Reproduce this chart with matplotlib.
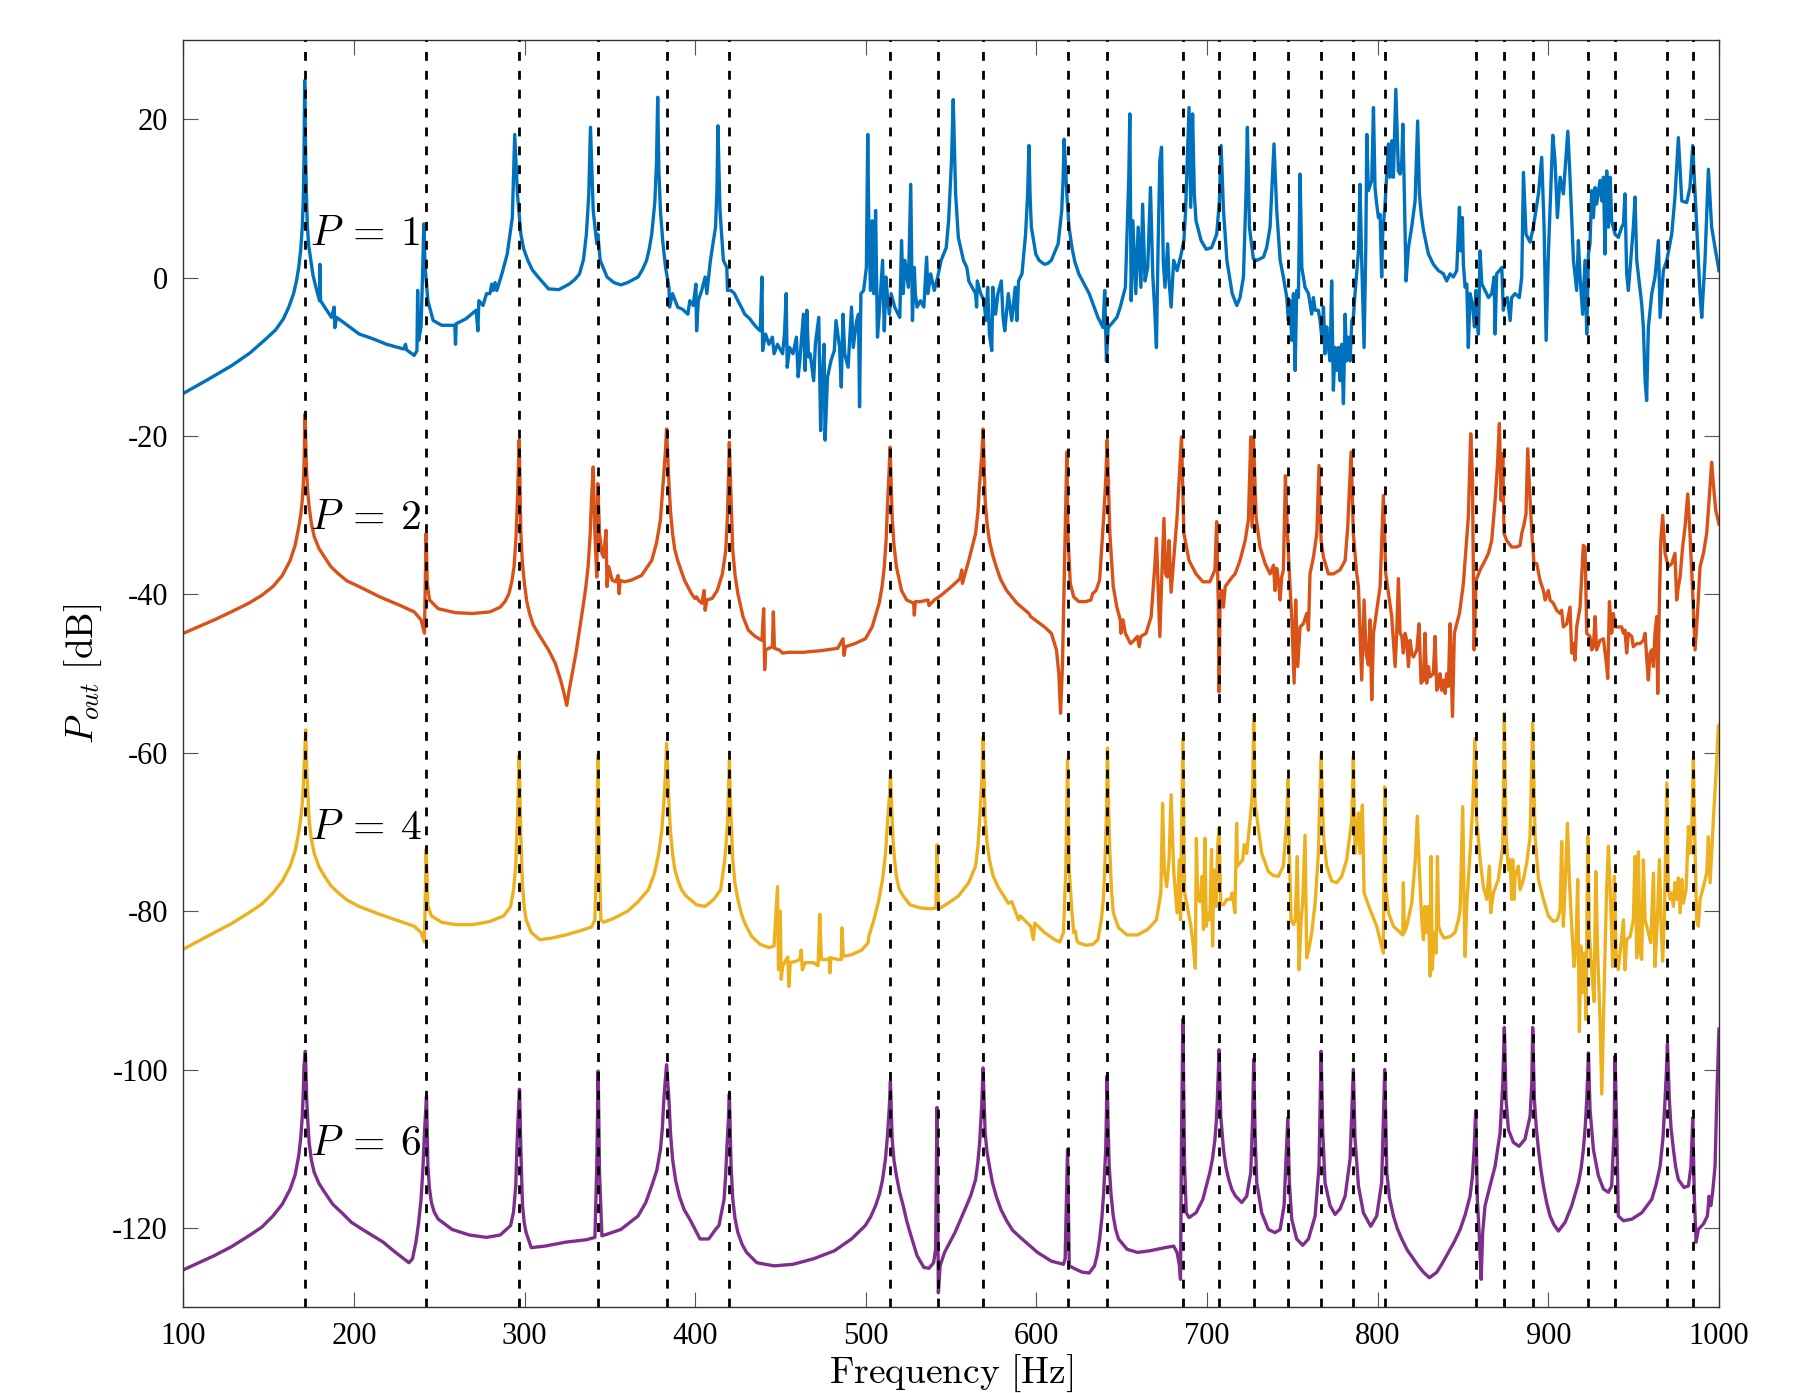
import matplotlib
matplotlib.use("Agg")
import matplotlib.pyplot as plt

plt.rcParams['font.family'] = ['Liberation Serif', 'DejaVu Serif']
plt.rcParams['mathtext.fontset'] = 'cm'
plt.rcParams['axes.unicode_minus'] = False

# resonance frequencies (dashed lines), Hz
modes = [171.3, 242.3, 296.8, 342.8, 383.2, 420.0, 514.4, 542.1, 568.7, 618.2,
         641.6, 685.8, 707.0, 727.3, 747.3, 766.8, 785.7, 804.1, 857.4, 874.2,
         890.8, 923.5, 939.1, 969.8, 984.8]

# (frequency [Hz], Pout [dB])
p1 = [(100.0, -14.6), (114.0, -12.9), (128.3, -11.1), (139.0, -9.5), (148.5, -7.7), (154.0, -6.6),
      (158.6, -5.2), (161.8, -3.7), (164.6, -2.0), (166.2, -0.5), (167.6, 1.3), (168.8, 3.6),
      (169.7, 6.4), (170.3, 10.0), (170.7, 14.8), (171.1, 24.9), (171.7, 14.8), (172.2, 9.8),
      (172.7, 6.4), (173.5, 4.0), (174.7, 2.2), (176.0, 0.3),
      (177.7, -1.2), (179.8, -2.9), (180.0, 1.7), (180.4, -2.9), (182.8, -3.7), (186.8, -5.0),
      (188.4, -3.7), (188.8, -6.3), (189.8, -5.0), (194.9, -5.8), (203.0, -7.1), (211.0, -7.7),
      (219.1, -8.4), (229.2, -9.0), (230.2, -8.4), (230.8, -9.1), (235.3, -9.8), (236.9, -9.2),
      (237.3, -1.6), (237.9, -7.9), (239.3, -6.2), (240.3, 1.3), (240.9, 6.8), (241.7, 1.3),
      (243.3, -2.9), (246.4, -5.4), (251.4, -6.0), (259.1, -6.0), (259.5, -8.4), (259.9, -5.8),
      (265.5, -5.2), (271.6, -4.1), (272.6, -6.7), (273.2, -2.9), (275.6, -3.5), (277.7, -2.0),
      (279.7, -2.0), (280.7, -0.8), (281.7, -1.6), (282.7, -0.6), (283.7, -1.6), (286.7, 0.5),
      (289.8, 3.0), (292.8, 7.6), (294.2, 18.1), (295.8, 10.6), (297.8, 5.5), (299.5, 3.6),
      (301.9, 2.2), (304.5, 1.0), (307.9, 0.1), (314.0, -1.4), (320.0, -1.5), (326.1, -0.8),
      (329.5, -0.2), (332.2, 0.5), (334.5, 2.3), (336.2, 5.5), (337.6, 10.5),
      (338.6, 19.0), (340.2, 8.5), (342.3, 4.3), (342.9, 5.5), (344.3, 2.2), (348.3, 0.1),
      (352.3, -0.6), (356.4, -0.9), (360.4, -0.6), (366.5, 0.1), (369.0, 1.0), (371.5, 2.2),
      (373.0, 3.6), (374.5, 5.5), (376.3, 9.5), (377.3, 14.5), (378.0, 22.8), (378.7, 13.5),
      (379.6, 8.5), (381.0, 4.5), (382.6, 1.3), (384.6, -1.2), (385.0, -3.7), (386.7, -2.0),
      (389.7, -3.7), (392.7, -4.0), (395.7, -4.6), (396.8, -2.9), (398.8, -3.5), (400.4, -0.8),
      (400.8, -6.7), (401.8, -2.9), (403.8, -1.6), (405.8, 0.1), (406.8, -2.0), (408.9, 2.2),
      (411.9, 6.4), (412.7, 11.0), (413.3, 19.2), (414.5, 8.5), (416.5, 2.2), (418.5, 1.3), (418.9, -1.6),
      (421.0, -1.6), (423.0, -2.0), (425.0, -2.9), (427.0, -3.7), (429.0, -4.6), (432.1, -5.2),
      (434.1, -5.8), (436.1, -6.3), (438.1, -6.7), (439.1, 0.1), (439.5, -9.2), (441.2, -7.1),
      (443.2, -8.4), (445.2, -7.5), (446.2, -9.6), (448.2, -8.4), (451.2, -9.6), (452.3, -7.1),
      (453.3, -2.0), (453.9, -11.3), (455.3, -8.8), (457.3, -9.6), (459.3, -7.5), (460.3, -12.5),
      (461.3, -10.5), (463.4, -4.6), (464.4, -11.7), (465.4, -4.1), (466.4, -10.0), (467.4, -9.6),
      (469.4, -13.0), (470.4, -8.4), (472.4, -5.0), (473.5, -19.3), (474.5, -12.6), (475.5, -8.4),
      (476.1, -20.5), (477.5, -12.6), (479.5, -10.5), (481.5, -9.2), (482.5, -5.4), (484.6, -8.8),
      (485.6, -13.8), (486.6, -4.6), (487.6, -9.6), (489.6, -11.3), (491.6, -3.7), (492.6, -8.8),
      (494.6, -5.4), (495.7, -4.6), (496.3, -16.3), (497.1, -2.0), (498.7, -1.6), (500.3, 1.3),
      (501.1, 18.1), (501.7, 7.2), (502.7, -1.6), (503.7, 7.2), (504.7, -2.0), (505.7, 8.5),
      (506.8, -7.5), (507.8, -4.6), (509.8, 2.2), (510.8, -6.7), (511.8, 0.1), (512.8, -2.9),
      (513.8, -4.6), (514.8, -2.0), (516.9, -3.7), (518.9, -4.6), (519.9, -5.0), (520.9, 4.7),
      (521.9, -2.0), (522.9, 2.2), (524.9, -1.2), (526.3, 11.8), (527.3, -5.4), (528.4, 1.3),
      (529.0, -2.0), (530.0, -3.7), (532.0, -2.9), (534.0, -3.7), (535.6, 2.6), (536.4, -2.0),
      (538.0, 0.5), (540.1, -1.6), (542.1, 0.1), (544.1, 2.2), (547.1, 3.8), (548.5, 7.2),
      (550.2, 14.8), (551.2, 22.5), (552.6, 10.6), (554.2, 5.1), (557.2, 2.2), (559.2, 1.3),
      (560.3, -0.4), (562.3, -1.2), (564.3, -2.0), (564.9, -3.7), (565.3, -0.4), (567.3, -2.0),
      (569.3, -2.9), (570.3, -5.4), (571.4, -1.2), (572.4, -7.1), (573.8, -9.2), (574.4, -1.2),
      (576.0, -4.6), (577.4, -2.0), (579.4, -0.4), (580.4, -5.0), (581.4, -6.7), (583.5, -2.0),
      (585.5, -5.4), (587.5, -1.2), (588.5, -5.4), (589.5, -0.4), (591.5, 0.5), (593.6, 5.5),
      (594.8, 10.5), (595.6, 16.7), (596.3, 10.0), (597.0, 6.4), (599.6, 3.0), (601.5, 2.2),
      (604.7, 1.7), (606.5, 1.8), (608.7, 2.2), (612.7, 4.3), (614.8, 8.5), (615.6, 12.5),
      (616.2, 17.5), (617.8, 10.6), (619.0, 6.5), (620.8, 3.8), (622.5, 2.0), (624.8, 0.5), (630.9, -2.0),
      (636.0, -5.0), (639.0, -6.3), (640.0, -1.6), (641.0, -10.5), (642.0, -6.3), (644.0, -5.8),
      (647.1, -5.0), (649.1, -3.7), (652.1, -1.2), (654.1, 12.7), (654.7, 20.7), (655.5, -2.9),
      (656.5, 7.2), (658.2, -2.0), (659.6, 6.4), (661.2, -1.2), (662.2, 9.3), (663.6, -0.4),
      (665.2, 1.3), (666.8, 11.4), (668.2, 0.1), (669.3, -4.1), (670.3, -8.8), (671.3, 4.3),
      (672.3, 14.8), (673.3, 16.5), (674.3, 2.2), (675.3, -1.2), (676.9, 4.3), (677.7, -0.4),
      (678.9, -3.7), (680.4, 2.2), (682.4, 0.9), (684.4, 2.6), (686.4, 4.7), (687.4, 8.5),
      (689.4, 21.5), (690.4, 8.9), (691.5, 20.7), (692.5, 10.6), (693.5, 7.2), (696.5, 4.7),
      (699.5, 3.6), (702.6, 3.8), (705.6, 5.5), (707.2, 9.7), (708.2, 16.7), (709.6, 8.5),
      (711.6, 2.2), (714.7, -2.0), (717.4, -3.5), (719.3, -2.5), (721.3, 0.1), (722.8, 10.6),
      (723.6, 19.0), (724.8, 6.4), (727.1, 2.4), (729.1, 2.2), (731.0, 2.4), (733.0, 2.6),
      (734.9, 3.8), (736.9, 6.4), (739.2, 16.9), (740.8, 8.5), (742.8, 2.2), (744.7, 0.1),
      (746.7, -2.5), (747.6, -5.4), (748.6, -2.9), (749.6, -7.9), (750.6, -2.0), (751.6, -11.7),
      (752.5, -1.6), (753.5, -2.5), (754.5, 13.1), (755.5, 1.3), (757.4, -1.2), (759.4, -2.0),
      (761.3, -4.6), (762.3, -2.5), (763.3, -4.1), (765.2, -4.1), (766.2, -5.4), (767.2, -7.5),
      (768.2, -3.7), (769.1, -9.6), (770.1, -6.2), (771.1, -8.8), (772.1, -10.5), (773.0, -0.4),
      (774.0, -14.2), (775.0, -8.8), (776.0, -11.7), (777.0, -8.8), (777.9, -13.0), (778.9, -8.4),
      (779.9, -15.9), (780.9, -4.6), (781.8, -10.5), (782.8, -7.5), (783.8, -10.5), (784.8, -5.4),
      (785.7, -5.0), (786.7, -2.0), (788.7, 3.4), (789.6, 11.8), (790.6, 2.2), (792.0, -8.8),
      (793.0, 3.8), (793.6, 18.1), (794.5, 11.0), (796.5, 12.3), (797.5, 21.5), (798.4, 11.4),
      (799.4, 9.3), (800.4, 7.6), (801.4, 8.0), (802.3, 0.1), (802.9, 5.5), (804.3, 9.3),
      (806.3, 16.9), (807.2, 12.7), (808.2, 17.3), (809.2, 12.7), (810.6, 23.8), (812.1, 13.5),
      (813.1, 13.1), (814.1, 14.8), (814.7, 19.4), (815.4, 12.7), (816.6, -0.4), (818.0, 3.8),
      (819.9, 6.4), (821.9, 9.7), (823.4, 19.8), (824.4, 10.6), (825.5, 8.0), (826.8, 6.0), (829.7, 3.0),
      (832.6, 1.7), (835.6, 0.9), (838.5, 0.5), (840.4, -0.4), (842.4, 0.5), (844.3, 0.1),
      (846.3, 0.9), (847.9, 8.9), (848.6, 3.4), (849.6, 7.6), (850.2, 1.7), (851.2, -1.2),
      (852.2, -0.8), (853.1, -8.8), (854.1, -2.0), (855.5, -3.3), (856.7, -6.2), (857.6, -1.6),
      (858.0, -4.6), (859.0, -7.1), (860.0, 3.4), (861.0, -0.8), (862.9, -1.6), (864.9, -2.5),
      (866.8, -2.0), (868.2, 0.1), (868.8, -7.1), (869.7, 0.5), (871.3, 0.9), (872.7, 1.3),
      (873.6, -4.1), (874.6, -2.9), (876.0, -2.5), (877.6, -5.4), (878.5, -2.5), (880.5, -2.0),
      (883.0, -2.5), (884.4, 0.1), (885.4, 13.3), (886.9, 5.5), (889.3, 4.5), (891.2, 6.4),
      (894.2, 10.6), (896.1, 15.2), (897.5, 6.4), (898.7, -7.9), (900.0, 3.0), (902.6, 18.0),
      (903.9, 14.8), (905.3, 7.6), (906.9, 12.7), (908.8, 10.6), (911.4, 18.5), (912.7, 12.7),
      (914.7, 2.2), (916.6, -1.6), (917.6, 4.7), (918.6, 0.1), (920.1, -4.6), (921.5, 2.2),
      (922.5, -7.1), (923.5, 3.0), (924.4, 4.3), (925.4, 11.0), (926.4, 7.6), (927.4, 11.4),
      (928.3, 9.3), (930.3, 12.3), (931.3, 9.7), (932.3, 12.7), (933.2, 3.0), (934.2, 13.5),
      (935.2, 6.4), (936.2, 12.7), (937.1, 7.2), (939.1, 5.5), (941.0, 5.1), (943.0, 6.4),
      (944.0, 6.8), (944.9, 10.6), (945.9, 0.5), (946.9, -1.6), (948.3, 2.2), (949.8, 6.4),
      (950.8, 10.2), (951.8, 2.2), (954.7, -3.3), (955.7, -6.3), (956.7, -13.0), (957.6, -15.5),
      (958.6, -6.3), (960.6, -2.0), (962.5, 0.1), (964.5, 4.7), (965.5, -5.0), (967.4, 0.9),
      (969.4, 2.2), (972.3, 5.5), (974.2, 10.2), (976.2, 17.7), (978.2, 9.7), (981.1, 9.5),
      (983.0, 11.4), (984.6, 16.7), (986.0, 10.6), (987.3, 4.7), (988.9, -2.0), (989.9, -5.0),
      (991.8, 2.2), (993.8, 13.7), (995.7, 6.4), (997.7, 3.8), (1000.0, 0.9)]

p2 = [(100.0, -44.9), (118.2, -43.2), (128.0, -42.2), (138.4, -41.1), (146.0, -40.1), (152.5, -39.0),
      (158.0, -37.6), (162.6, -35.7), (165.5, -33.8), (167.6, -31.5), (168.8, -29.9), (169.7, -28.1),
      (170.3, -26.0), (170.7, -23.9), (171.3, -17.2), (172.1, -23.9), (172.8, -26.8), (173.7, -28.9),
      (175.0, -31.0), (176.7, -32.7), (179.5, -34.2), (182.8, -35.3), (186.5, -36.5), (190.9, -37.4),
      (196.0, -38.3), (203.0, -39.0), (215.1, -40.3), (227.2, -41.4), (235.3, -42.2),
      (239.3, -43.2), (241.3, -44.9), (242.3, -32.3), (242.9, -38.6), (244.3, -40.7), (249.4, -41.8),
      (259.5, -42.3), (269.6, -42.4), (279.7, -42.2), (285.7, -41.6), (288.5, -40.9), (290.8, -39.9),
      (292.5, -38.4), (293.8, -36.5), (294.9, -33.0), (295.8, -28.1), (296.3, -24.5), (296.8, -20.5),
      (297.8, -32.3), (298.7, -36.0), (299.9, -38.6), (301.2, -40.8), (302.9, -42.4), (305.0, -43.8),
      (307.9, -44.9), (314.0, -47.0), (318.0, -48.7), (321.1, -50.8), (323.1, -52.5), (324.7, -54.0),
      (326.1, -52.1), (330.1, -47.4), (334.2, -41.6), (335.8, -39.2), (337.2, -36.5), (338.4, -32.5),
      (339.2, -28.1), (340.2, -23.9), (341.2, -32.3),
      (342.3, -37.8), (342.9, -26.0), (343.9, -32.3), (345.3, -34.8), (346.3, -35.3), (347.7, -31.9),
      (348.3, -39.0), (349.3, -36.5), (351.3, -38.2), (353.4, -38.4), (354.8, -37.6), (355.4, -39.9),
      (356.0, -38.2), (358.4, -38.4), (362.4, -38.2), (368.5, -37.6), (374.5, -35.7), (377.3, -33.5),
      (379.6, -30.6), (381.6, -24.7), (382.5, -22.0), (383.2, -19.1), (384.6, -26.0), (385.5, -29.5),
      (386.7, -32.3), (388.0, -34.3), (389.7, -35.7), (393.7, -38.2),
      (397.8, -39.9), (399.8, -40.5), (400.8, -40.3), (401.8, -40.7), (403.8, -41.1), (405.2, -39.5),
      (405.8, -42.0), (406.8, -40.7), (409.9, -40.5), (412.9, -39.5), (415.9, -37.4), (417.9, -34.4),
      (418.8, -30.5), (419.4, -26.0), (420.0, -20.8), (421.0, -28.1), (422.0, -34.4), (423.3, -37.5),
      (425.0, -39.9), (428.0, -42.8),
      (431.1, -44.5), (435.1, -45.3), (439.1, -45.8), (440.1, -41.8), (440.7, -49.5), (441.2, -47.0),
      (443.2, -46.8), (445.2, -46.6), (445.8, -42.2), (446.4, -46.8), (449.2, -47.0), (451.2, -47.4),
      (455.3, -47.3), (463.4, -47.3), (473.5, -47.1), (483.5, -46.8), (486.6, -45.6), (487.2, -47.7),
      (488.0, -46.6), (493.6, -46.2), (499.7, -45.6), (503.7, -44.1), (507.8, -41.1), (509.5, -39.0),
      (510.8, -36.5), (511.9, -33.0), (512.8, -28.1), (513.6, -24.5), (514.2, -21.4), (515.4, -30.2),
      (516.5, -33.8), (517.9, -36.5), (520.9, -39.5), (523.9, -40.7),
      (528.0, -41.1), (528.4, -42.6), (529.0, -40.9), (532.0, -40.9), (536.4, -40.7), (537.0, -41.4),
      (540.1, -40.7), (544.1, -40.1), (550.2, -39.0), (555.2, -38.0), (556.2, -36.9), (556.6, -38.6),
      (560.3, -35.7), (564.3, -32.3), (565.7, -29.5), (566.7, -26.0), (567.9, -22.5), (568.7, -19.1),
      (569.9, -28.1), (571.0, -31.0), (572.4, -33.2), (574.3, -35.0), (576.4, -36.5), (579.0, -38.1),
      (582.5, -39.5), (588.5, -41.1), (595.6, -42.4), (596.6, -42.8), (604.7, -44.1),
      (608.7, -44.9), (611.7, -47.0), (613.1, -50.0), (614.1, -55.0), (615.2, -49.1), (616.4, -36.5),
      (617.8, -22.0), (618.4, -32.3), (619.8, -38.6), (621.8, -40.3), (624.8, -40.9), (628.9, -40.9),
      (631.9, -40.7), (632.9, -39.9), (634.9, -39.5), (637.0, -38.2), (639.4, -30.2), (640.6, -25.5),
      (641.4, -20.5),
      (643.0, -32.3), (645.0, -39.0), (647.1, -41.6), (649.1, -43.2), (649.5, -44.9), (650.7, -43.2),
      (652.1, -44.9), (655.1, -46.2), (657.1, -45.8), (659.2, -45.3), (660.2, -46.6), (661.2, -45.3),
      (664.2, -44.9), (667.2, -42.8), (669.3, -36.5), (670.3, -32.9), (671.3, -39.0), (672.3, -45.3),
      (673.3, -38.6), (674.7, -30.4), (675.7, -37.4), (676.7, -37.8), (677.7, -33.2), (678.9, -39.7),
      (680.4, -35.7), (682.4, -30.2), (685.0, -20.1), (686.4, -32.3), (689.4, -35.7), (693.5, -37.4),
      (697.5, -38.4), (701.6, -38.4), (704.6, -36.9), (705.6, -30.8), (706.6, -41.6), (707.0, -52.3),
      (707.6, -40.7), (708.6, -39.5), (709.6, -41.6), (710.6, -39.0), (714.7, -37.8), (716.4, -37.4),
      (719.3, -35.7), (722.3, -33.2), (724.2, -30.6), (725.6, -20.1), (726.5, -31.5), (727.1, -20.1),
      (727.7, -23.5), (728.7, -30.2), (731.0, -34.0), (734.0, -36.1), (736.9, -37.4), (738.9, -36.3),
      (739.8, -39.5), (740.8, -36.7), (741.8, -38.2), (742.8, -40.7), (743.7, -37.8), (744.7, -36.9),
      (745.9, -25.0), (747.1, -32.3), (748.6, -39.0), (749.6, -42.8), (751.0, -51.2), (751.9, -40.7),
      (753.1, -49.1), (754.5, -44.1), (756.4, -43.7), (758.4, -42.4), (759.4, -44.5), (760.3, -37.4),
      (762.3, -35.3), (764.3, -32.3), (765.6, -23.7), (766.8, -33.2), (768.2, -35.3), (771.1, -37.4),
      (774.0, -37.4), (777.9, -36.9), (780.9, -35.7), (782.4, -31.5), (784.4, -22.0), (785.7, -32.3),
      (787.7, -37.4), (788.7, -39.0), (790.6, -50.8), (792.0, -40.7), (793.2, -47.4), (794.5, -48.9),
      (795.5, -43.2), (796.5, -53.3), (797.5, -44.9), (799.4, -42.0), (801.4, -39.0), (803.3, -27.5),
      (804.7, -37.4), (806.3, -39.9), (808.2, -42.8), (810.2, -49.1), (811.1, -44.9), (812.1, -38.0),
      (813.1, -44.9), (814.1, -45.3), (815.0, -47.4), (816.0, -44.9), (817.0, -45.8), (818.0, -49.1),
      (819.0, -45.8), (819.9, -47.4), (820.9, -47.9), (822.9, -47.0), (824.2, -43.7), (825.4, -51.2),
      (826.8, -50.8), (827.7, -44.9), (828.7, -51.2), (829.7, -49.1), (830.7, -50.4), (832.6, -50.0),
      (833.6, -45.3), (834.6, -52.1), (835.6, -51.6), (836.5, -50.0), (837.5, -52.1), (838.5, -50.8),
      (839.5, -52.5), (840.4, -50.0), (841.4, -51.6), (842.4, -43.7), (843.8, -55.4), (844.9, -44.9),
      (846.3, -43.7), (847.9, -42.4), (850.2, -38.6), (853.1, -30.2), (854.5, -19.7), (855.5, -25.2),
      (856.5, -47.0), (857.6, -38.2), (860.0, -36.9), (862.9, -35.7), (864.9, -34.8), (866.8, -33.2),
      (868.8, -28.1), (870.1, -23.9), (871.3, -18.4), (872.3, -28.1), (873.3, -22.2), (874.0, -32.3),
      (875.6, -33.2), (878.5, -34.0), (881.5, -34.0), (883.4, -33.8), (884.4, -32.3), (885.8, -31.1),
      (886.9, -29.8), (887.9, -21.6), (889.3, -28.1), (890.6, -33.2), (891.6, -36.1), (893.2, -36.1),
      (895.1, -38.2), (897.1, -39.5), (898.1, -40.7), (900.0, -39.5), (901.0, -40.7), (902.9, -41.1),
      (904.9, -42.0), (906.9, -42.4), (907.8, -42.0), (908.8, -44.1), (910.8, -43.7), (912.7, -41.6),
      (913.7, -47.4), (914.7, -46.2), (915.6, -48.3), (916.6, -44.1), (918.6, -41.6), (920.5, -33.8),
      (921.5, -34.0), (922.5, -44.9), (924.4, -45.3), (925.4, -47.0), (926.4, -46.6), (927.4, -42.8),
      (928.3, -47.0), (930.3, -45.8), (932.3, -45.6), (934.2, -49.1), (934.8, -50.6), (935.8, -40.9),
      (937.1, -44.9), (938.1, -42.4), (939.1, -44.1), (941.0, -44.1), (943.0, -44.1), (944.0, -44.9),
      (944.9, -44.5), (945.9, -47.4), (946.9, -44.9), (948.9, -45.3), (949.8, -46.6), (951.8, -46.2),
      (953.7, -46.2), (955.7, -45.8), (956.7, -44.9), (957.6, -47.9), (958.6, -50.8), (959.6, -47.4),
      (960.6, -47.0), (961.6, -49.1), (962.5, -44.9), (963.5, -42.8), (964.1, -52.5), (965.1, -40.7),
      (965.9, -33.2), (967.0, -30.0), (968.4, -34.8), (970.3, -36.5), (972.3, -36.1), (974.2, -34.8),
      (975.2, -40.7), (976.2, -39.0), (977.2, -37.8), (978.7, -34.0), (980.1, -31.5), (981.7, -27.3),
      (983.0, -32.3), (984.6, -39.9), (986.0, -47.0), (987.3, -42.8), (988.9, -36.5), (990.9, -34.8),
      (992.8, -32.3), (994.2, -28.1), (995.7, -23.3), (996.7, -26.0), (998.1, -29.4), (1000.0, -31.1)]

p4 = [(100.0, -84.8), (118.2, -82.7), (128.0, -81.6), (138.4, -80.2), (146.0, -79.1), (152.5, -77.7),
      (158.0, -76.2), (162.6, -74.3), (165.5, -72.4), (167.6, -70.1), (168.8, -68.3), (169.7, -66.4),
      (170.3, -64.2), (170.7, -62.2), (171.7, -57.1), (172.3, -62.2), (173.0, -65.5), (173.7, -68.5),
      (175.0, -70.9), (176.7, -72.7), (179.5, -74.4), (182.8, -75.6), (186.5, -76.8), (190.9, -77.7),
      (196.0, -78.6), (203.0, -79.4), (215.1, -80.4), (227.2, -81.3), (235.3, -81.9),
      (239.3, -82.7), (241.3, -83.9), (242.3, -72.2), (243.3, -79.4), (245.4, -80.6), (251.4, -81.4),
      (259.5, -81.7), (269.6, -81.7), (279.7, -81.3), (287.7, -80.6), (291.8, -79.4), (293.5, -77.3),
      (294.8, -74.3), (295.8, -68.5), (296.3, -64.5), (296.8, -60.3), (297.8, -70.6), (298.3, -74.0),
      (298.8, -76.9), (299.8, -79.6), (300.9, -81.1), (303.9, -82.7),
      (308.9, -83.6), (316.0, -83.4), (324.1, -83.0), (332.2, -82.5), (339.2, -82.0), (341.2, -81.1),
      (342.3, -72.7), (342.9, -60.3), (343.7, -72.7), (344.7, -81.1), (346.3, -81.4), (352.3, -80.9),
      (360.4, -80.0), (366.5, -78.8), (372.5, -77.3), (376.0, -75.3), (378.6, -72.7), (380.3, -70.0),
      (381.6, -66.4), (382.6, -62.5), (383.2, -58.8), (384.6, -66.4), (385.5, -70.0), (386.7, -72.7),
      (388.0, -74.7), (389.7, -76.0), (392.0, -77.3), (394.7, -78.1), (400.8, -79.2), (405.8, -79.4),
      (410.9, -78.5), (414.9, -77.3), (417.3, -73.5), (418.3, -71.0), (419.0, -68.5), (420.0, -60.9),
      (421.0, -68.5), (422.0, -73.5), (423.3, -76.5), (425.0, -78.5), (427.0, -80.3), (429.0, -81.5),
      (433.1, -83.2), (438.1, -84.2), (443.2, -84.6),
      (446.2, -84.4), (448.2, -76.9), (448.8, -87.4), (449.8, -80.0), (450.4, -88.6), (451.2, -87.0),
      (453.3, -86.1), (454.3, -85.8), (454.9, -89.5), (455.7, -86.5), (459.3, -86.3), (461.3, -86.1),
      (462.1, -84.9), (462.8, -87.4), (464.4, -86.5), (469.4, -86.5), (472.0, -86.9), (473.0, -80.4),
      (473.9, -86.1), (477.5, -86.1), (478.5, -85.9), (478.9, -87.8), (479.5, -85.9), (483.5, -86.1),
      (485.6, -86.1), (486.0, -82.1), (486.8, -85.7), (491.6, -85.5), (497.7, -84.9), (501.3, -84.0),
      (501.7, -83.2), (504.7, -81.1), (507.5, -78.7), (509.8, -76.0), (511.5, -72.8), (512.8, -68.5),
      (513.8, -65.5), (514.4, -62.8), (515.8, -70.6), (516.8, -73.5), (517.9, -75.6), (519.5, -77.2),
      (521.9, -78.1), (525.9, -79.2), (532.0, -79.6), (538.0, -79.7), (541.1, -79.6),
      (541.7, -71.6), (542.5, -79.4), (543.7, -79.6), (548.1, -79.0), (554.2, -78.1), (560.3, -76.4),
      (564.3, -74.3), (565.7, -71.8), (566.7, -68.5), (568.0, -63.5), (568.7, -58.0), (569.9, -68.5),
      (571.0, -71.3), (572.4, -73.5), (574.5, -75.5), (577.4, -76.9),
      (583.5, -79.0), (585.5, -78.8), (589.5, -81.1), (590.5, -80.6), (596.6, -81.9), (598.2, -83.6),
      (599.0, -81.5), (604.7, -82.7), (610.7, -83.6), (613.7, -83.9), (615.8, -82.7), (617.2, -74.8),
      (618.2, -60.9), (619.2, -74.8), (620.8, -80.2), (621.8, -82.7), (622.8, -82.5), (623.8, -83.8),
      (624.8, -84.0), (628.9, -84.3), (632.9, -84.2), (636.0, -83.6), (638.0, -81.1), (639.2, -78.5),
      (640.0, -74.8), (641.0, -68.0), (641.6, -59.4), (642.2, -66.5), (643.0, -72.7), (644.0, -77.5),
      (645.0, -80.2), (648.1, -82.1), (653.1, -83.0), (659.2, -83.0),
      (665.2, -82.3), (670.3, -81.1), (672.9, -77.7), (673.9, -66.4), (674.9, -74.8), (676.3, -76.9),
      (677.7, -73.5), (678.9, -65.3), (680.4, -74.8), (682.4, -80.2), (683.8, -73.5), (684.4, -81.1),
      (685.8, -58.2), (686.8, -77.7), (688.4, -79.4), (690.5, -81.9), (691.9, -84.4), (693.1, -87.2),
      (693.7, -70.8), (694.5, -78.5), (695.9, -78.8), (697.1, -75.6), (697.9, -82.3), (698.7, -70.8),
      (699.5, -81.9), (700.5, -80.2), (701.6, -81.1), (702.6, -72.2), (703.2, -84.4), (704.0, -74.8),
      (705.2, -79.4), (706.2, -71.8), (707.0, -69.5), (708.0, -79.2), (709.6, -79.2), (711.6, -78.5),
      (713.7, -78.5), (714.7, -77.7), (716.3, -80.2), (717.3, -68.9), (717.8, -74.3), (719.3, -73.9),
      (720.9, -73.5), (721.7, -71.6), (722.8, -71.8), (723.2, -72.7), (724.2, -70.6), (725.6, -67.6),
      (726.7, -64.3), (727.3, -55.2), (728.1, -66.4), (730.1, -69.7), (732.0, -72.7), (734.0, -73.9),
      (735.9, -75.0), (738.9, -75.5), (741.8, -75.6), (744.7, -74.3), (746.7, -68.5), (747.3, -63.4),
      (748.2, -72.7), (749.2, -81.1), (750.6, -81.7), (751.6, -81.1), (752.9, -73.1), (753.9, -87.4),
      (755.1, -81.1), (756.0, -79.0), (757.4, -70.4), (758.4, -85.9), (760.0, -84.4), (761.3, -82.7),
      (763.3, -79.0), (765.2, -72.7), (766.8, -60.1), (768.2, -70.6), (770.1, -74.3), (773.0, -76.2),
      (776.0, -76.4), (778.9, -75.6), (781.8, -73.5), (784.8, -68.5), (785.7, -60.5), (786.7, -72.7),
      (787.7, -70.6), (788.7, -67.6), (789.6, -72.7), (791.0, -66.6), (792.0, -77.7), (795.5, -79.8),
      (799.4, -81.9), (802.3, -84.4), (803.3, -85.3), (804.1, -64.3), (804.7, -76.9), (806.3, -80.2),
      (809.2, -81.9), (813.1, -82.7), (814.7, -83.0), (815.0, -76.4), (815.6, -82.7), (817.0, -81.9),
      (819.9, -79.0), (821.9, -73.9), (823.2, -68.0), (824.4, -74.8), (825.8, -81.1), (826.8, -83.6),
      (827.7, -79.4), (828.7, -82.7), (829.7, -79.4), (830.7, -88.2), (831.3, -73.1), (832.0, -87.4),
      (833.0, -82.7), (834.2, -85.3), (835.0, -73.1), (835.7, -81.9), (836.9, -82.7), (838.9, -83.4),
      (842.4, -83.2), (845.3, -82.7), (846.3, -81.9), (847.3, -81.1), (848.3, -79.8), (849.8, -66.8),
      (850.8, -81.1), (851.2, -85.7), (852.2, -79.0), (854.1, -72.7), (855.7, -66.8), (857.0, -58.2),
      (858.0, -68.5), (860.0, -73.5), (861.9, -76.9), (863.9, -78.5), (865.4, -74.3), (866.2, -80.2),
      (867.8, -77.7), (870.7, -76.0), (873.3, -71.8), (874.2, -55.0), (875.2, -70.6), (876.6, -74.8),
      (877.6, -73.5), (878.5, -78.5), (879.1, -73.5), (879.9, -78.5), (880.5, -75.6), (882.4, -74.3),
      (883.4, -77.3), (885.4, -76.0), (887.3, -73.9), (889.3, -70.6), (890.8, -56.2), (892.2, -70.6),
      (894.2, -76.0), (897.1, -78.5), (900.0, -80.6), (902.9, -81.3), (905.3, -81.1), (906.9, -79.8),
      (907.8, -71.2), (908.8, -81.9), (909.8, -76.9), (911.2, -68.9), (912.3, -76.0), (913.7, -81.9),
      (915.1, -87.0), (916.2, -84.4), (917.2, -76.0), (918.2, -95.2), (919.0, -84.4), (919.9, -90.3),
      (921.1, -85.3), (922.1, -93.7), (923.1, -70.6), (924.1, -83.2), (925.4, -87.4), (926.8, -91.4),
      (927.8, -75.0), (928.9, -85.3), (930.3, -93.7), (931.3, -103.1), (932.3, -93.7), (933.2, -85.3),
      (934.2, -76.9), (935.2, -71.8), (936.6, -79.4), (937.7, -87.0), (938.7, -75.6), (939.7, -85.3),
      (941.0, -87.4), (942.0, -85.3), (943.0, -83.2), (944.0, -81.1), (944.9, -87.4), (945.9, -83.6),
      (947.9, -83.2), (949.8, -81.1), (950.8, -73.1), (951.8, -85.9), (952.8, -72.5), (953.7, -85.3),
      (954.7, -86.1), (955.7, -73.5), (956.7, -81.1), (958.6, -82.7), (960.0, -84.0), (961.6, -75.2),
      (962.5, -87.0), (963.9, -81.1), (965.1, -73.5), (966.0, -81.1), (967.0, -86.3), (968.0, -81.1),
      (969.4, -63.8), (970.3, -76.9), (971.3, -78.5), (972.3, -77.7), (973.3, -79.4), (974.2, -76.4),
      (975.2, -78.5), (976.2, -75.8), (977.2, -80.2), (978.2, -76.0), (979.1, -79.0), (980.7, -77.3),
      (982.1, -69.3), (983.0, -72.7), (984.0, -69.7), (985.0, -60.7), (986.0, -72.7), (986.9, -81.1),
      (987.9, -81.9), (988.9, -78.5), (990.9, -76.9), (992.8, -75.2), (993.8, -70.6), (994.8, -76.4),
      (995.7, -72.7), (996.7, -68.5), (998.7, -60.9), (999.6, -56.7), (1000.0, -56.5)]

p6 = [(100.0, -125.3), (118.2, -123.5), (128.0, -122.4), (138.4, -121.0), (146.0, -119.9), (152.5, -118.5),
      (158.0, -117.0), (162.6, -115.1), (165.5, -113.3), (167.6, -110.9), (168.8, -108.6), (169.7, -105.9),
      (170.3, -102.8), (170.7, -99.6), (171.5, -97.7), (172.3, -103.8), (173.0, -106.8), (173.7, -109.2),
      (175.0, -111.4), (176.7, -113.0), (179.5, -114.4), (182.8, -115.5), (187.5, -117.0), (192.9, -118.1),
      (198.5, -119.3), (205.0, -120.2), (217.1, -121.8), (223.2, -122.9), (229.2, -123.9),
      (232.2, -124.4), (234.3, -123.9), (236.3, -121.8), (237.8, -119.5), (239.3, -116.4), (240.4, -112.5),
      (241.3, -108.0), (242.5, -103.4), (243.3, -112.2), (244.2, -115.0), (245.4, -116.8), (247.0, -118.0),
      (249.4, -118.9), (257.5, -120.2), (267.6, -120.9), (277.7, -121.2),
      (285.7, -120.9), (291.8, -119.7), (293.5, -118.0), (294.8, -114.7), (295.8, -108.0), (296.3, -105.5),
      (297.0, -102.5), (297.8, -110.1), (298.3, -114.0), (298.8, -117.2), (299.8, -119.4), (300.9, -120.6),
      (303.9, -122.5), (312.0, -122.3), (324.1, -121.8), (336.2, -121.5),
      (341.2, -121.2), (342.3, -112.2), (343.1, -100.2), (343.9, -113.0), (345.3, -121.0), (348.3, -120.8),
      (356.4, -120.2), (366.5, -118.5), (371.0, -116.8), (374.5, -114.7), (377.5, -112.7), (379.6, -110.1),
      (380.7, -107.5), (381.6, -103.8), (382.5, -101.2), (383.2, -99.4), (384.6, -103.8), (385.5, -108.0),
      (386.7, -111.3), (388.5, -114.0), (390.7, -116.0), (393.5, -117.7), (396.8, -118.9), (402.8, -121.4),
      (407.9, -121.4), (411.9, -120.2), (413.9, -119.7), (416.9, -116.4), (417.8, -113.5), (418.5, -110.1),
      (419.4, -106.5), (420.0, -103.1), (421.0, -112.2), (422.0, -116.4), (423.3, -118.8), (425.0, -120.6),
      (427.5, -122.1), (430.1, -123.1), (436.1, -124.4), (446.2, -124.8), (457.3, -124.6),
      (469.4, -123.9), (481.5, -122.9), (491.6, -121.4), (499.7, -119.7), (502.8, -118.6), (505.7, -117.2),
      (508.0, -115.7), (509.8, -113.9), (511.5, -111.3), (512.8, -108.0), (513.8, -104.5), (514.4, -101.5),
      (515.4, -108.8), (516.5, -111.5), (517.9, -113.4), (519.8, -115.5), (521.9, -117.2), (523.8, -119.0),
      (525.9, -120.6), (530.0, -123.5), (534.0, -125.0), (537.0, -125.1), (539.7, -124.4), (540.9, -122.7),
      (541.7, -104.8), (542.5, -128.2), (543.5, -124.8), (546.1, -123.1), (552.2, -120.6), (558.2, -117.6),
      (561.5, -115.9), (564.3, -113.9), (565.6, -111.8), (566.7, -109.2), (567.9, -104.5), (568.7, -99.8),
      (569.9, -108.0), (571.0, -110.4), (572.4, -112.2), (574.2, -114.3), (576.4, -116.0), (579.2, -117.7),
      (582.5, -119.1), (586.0, -120.3), (590.5, -121.2), (600.6, -123.1), (608.7, -124.2), (615.8, -124.6),
      (616.8, -123.9), (618.2, -110.1), (619.2, -124.8), (622.8, -125.2), (626.9, -125.6), (630.9, -125.7),
      (634.0, -124.8), (635.6, -123.4), (637.0, -121.4), (638.3, -118.8), (639.4, -115.5), (640.6, -110.0),
      (641.4, -100.8), (641.9, -106.5), (642.6, -112.2), (643.7, -115.8), (645.0, -118.5), (646.4, -120.2),
      (648.1, -121.4), (653.1, -122.7),
      (659.2, -123.1), (666.2, -122.9), (675.3, -122.5), (680.4, -122.3), (682.4, -123.1), (683.8, -124.8),
      (684.4, -126.5), (685.0, -108.8), (685.8, -93.7), (686.8, -112.2), (687.8, -118.1), (689.4, -118.7),
      (693.5, -118.1), (697.5, -116.4), (701.6, -113.0), (703.2, -111.2), (704.6, -108.8), (705.4, -106.5),
      (706.0, -103.8), (707.0, -97.5), (708.0, -105.9), (709.6, -110.1), (711.0, -112.3), (712.7, -113.9),
      (714.6, -115.2), (716.7, -116.0), (720.3, -116.8), (723.2, -116.0),
      (725.6, -113.0), (726.7, -105.9), (727.3, -98.7), (728.1, -108.0), (729.1, -114.3), (732.0, -118.1),
      (735.9, -120.2), (739.8, -120.6), (742.8, -120.2), (745.1, -117.2), (746.3, -111.3), (747.3, -106.1),
      (748.2, -114.3), (749.6, -118.9), (752.5, -121.4), (756.0, -122.2), (759.4, -121.4), (763.3, -118.5),
      (765.6, -112.2), (766.8, -97.7), (767.8, -108.0), (769.1, -114.3), (772.1, -117.2), (775.0, -118.3),
      (777.9, -117.6), (780.9, -116.0), (783.8, -111.3), (785.7, -100.0), (786.7, -108.8), (788.7, -114.7),
      (791.6, -118.1), (795.9, -119.8), (799.4, -118.5), (802.3, -114.3), (804.1, -100.0), (805.3, -113.0),
      (806.9, -116.2), (809.2, -118.5), (811.5, -120.1), (814.1, -121.4), (817.3, -122.8), (820.9, -123.9),
      (823.8, -124.8), (826.8, -125.6), (830.3, -126.3), (834.6, -125.6), (837.8, -124.5), (841.4, -123.1),
      (845.0, -121.7), (848.3, -120.2), (851.3, -118.3), (854.1, -116.0), (855.5, -113.5), (856.5, -110.1),
      (857.4, -105.2), (858.4, -116.4),
      (859.6, -121.4), (860.6, -126.5), (861.5, -120.6), (862.9, -117.2), (865.8, -114.7), (868.8, -112.2),
      (871.7, -108.0), (873.3, -101.7), (874.2, -94.7), (875.2, -103.8), (876.6, -107.6), (879.5, -109.2),
      (882.8, -109.7), (886.3, -108.8), (889.3, -105.9), (890.3, -101.7), (890.8, -94.7), (891.8, -103.8),
      (892.9, -107.3), (894.2, -110.1), (895.6, -112.6), (897.1, -114.7), (899.0, -116.8), (901.0, -118.5),
      (903.3, -119.6), (905.9, -120.4), (909.8, -119.3), (913.7, -117.2),
      (917.6, -114.3), (919.2, -112.5), (920.5, -110.1), (921.6, -107.3), (922.5, -103.8), (923.5, -97.9),
      (924.4, -105.0), (926.4, -110.1),
      (929.3, -113.4), (932.3, -115.1), (935.2, -115.5), (937.1, -114.7), (938.5, -108.0), (939.1, -98.3),
      (940.1, -108.0), (941.0, -118.5), (944.0, -119.1), (948.9, -118.9), (954.7, -118.1), (960.6, -116.4),
      (963.2, -114.5), (965.5, -112.2), (967.2, -108.6), (968.4, -103.8), (969.2, -100.2), (969.8, -96.8),
      (970.9, -103.8), (971.9, -107.4), (973.3, -110.1), (974.6, -112.3), (976.2, -113.9),
      (979.5, -114.9), (982.1, -114.7), (983.6, -112.2), (984.6, -106.1), (985.6, -116.4), (986.6, -121.8),
      (987.9, -120.2), (990.9, -119.5), (993.2, -118.5), (994.2, -116.0), (995.2, -117.2), (996.3, -115.5),
      (997.7, -112.2), (998.7, -103.8), (1000.0, -94.9)]

series = [p1, p2, p4, p6]
labels = [r'$P\:=\:1$', r'$P\:=\:2$', r'$P\:=\:4$', r'$P\:=\:6$']
label_db = [5.4, -30.4, -69.6, -109.5]
colors = ['#0072BD', '#D95319', '#EDB120', '#7E2F8E']

fig = plt.figure(figsize=(18.03, 13.93), dpi=100)
ax = fig.add_axes([0.1017, 0.0617, 0.8517, 0.9094])

for data, c in zip(series, colors):
    f, db = zip(*data)
    ax.plot(f, db, color=c, lw=2.4, zorder=2)

for m in modes:
    ax.axvline(m, color='black', lw=2.0, linestyle=(0, (3.2, 3.6)), zorder=3)

for lab, y in zip(labels, label_db):
    ax.text(174, y, lab, fontsize=30, ha='left', va='center', zorder=4)

ax.set_xlim(100, 1000)
ax.set_ylim(-130, 30)
ax.set_xticks(range(100, 1001, 100))
ax.set_yticks(range(-120, 21, 20))
ax.tick_params(direction='in', length=11, width=0.8, color='#555555',
               labelsize=22, top=True, right=True, pad=11)
for s in ax.spines.values():
    s.set_color('#333333')
    s.set_linewidth(1.0)

ax.set_xlabel(r'$\mathrm{Frequency\ [Hz]}$', fontsize=27, labelpad=1)
ax.set_ylabel(r'$P_{out}\ \mathrm{[dB]}$', fontsize=27, labelpad=6)

fig.savefig('out.png', dpi=100)
